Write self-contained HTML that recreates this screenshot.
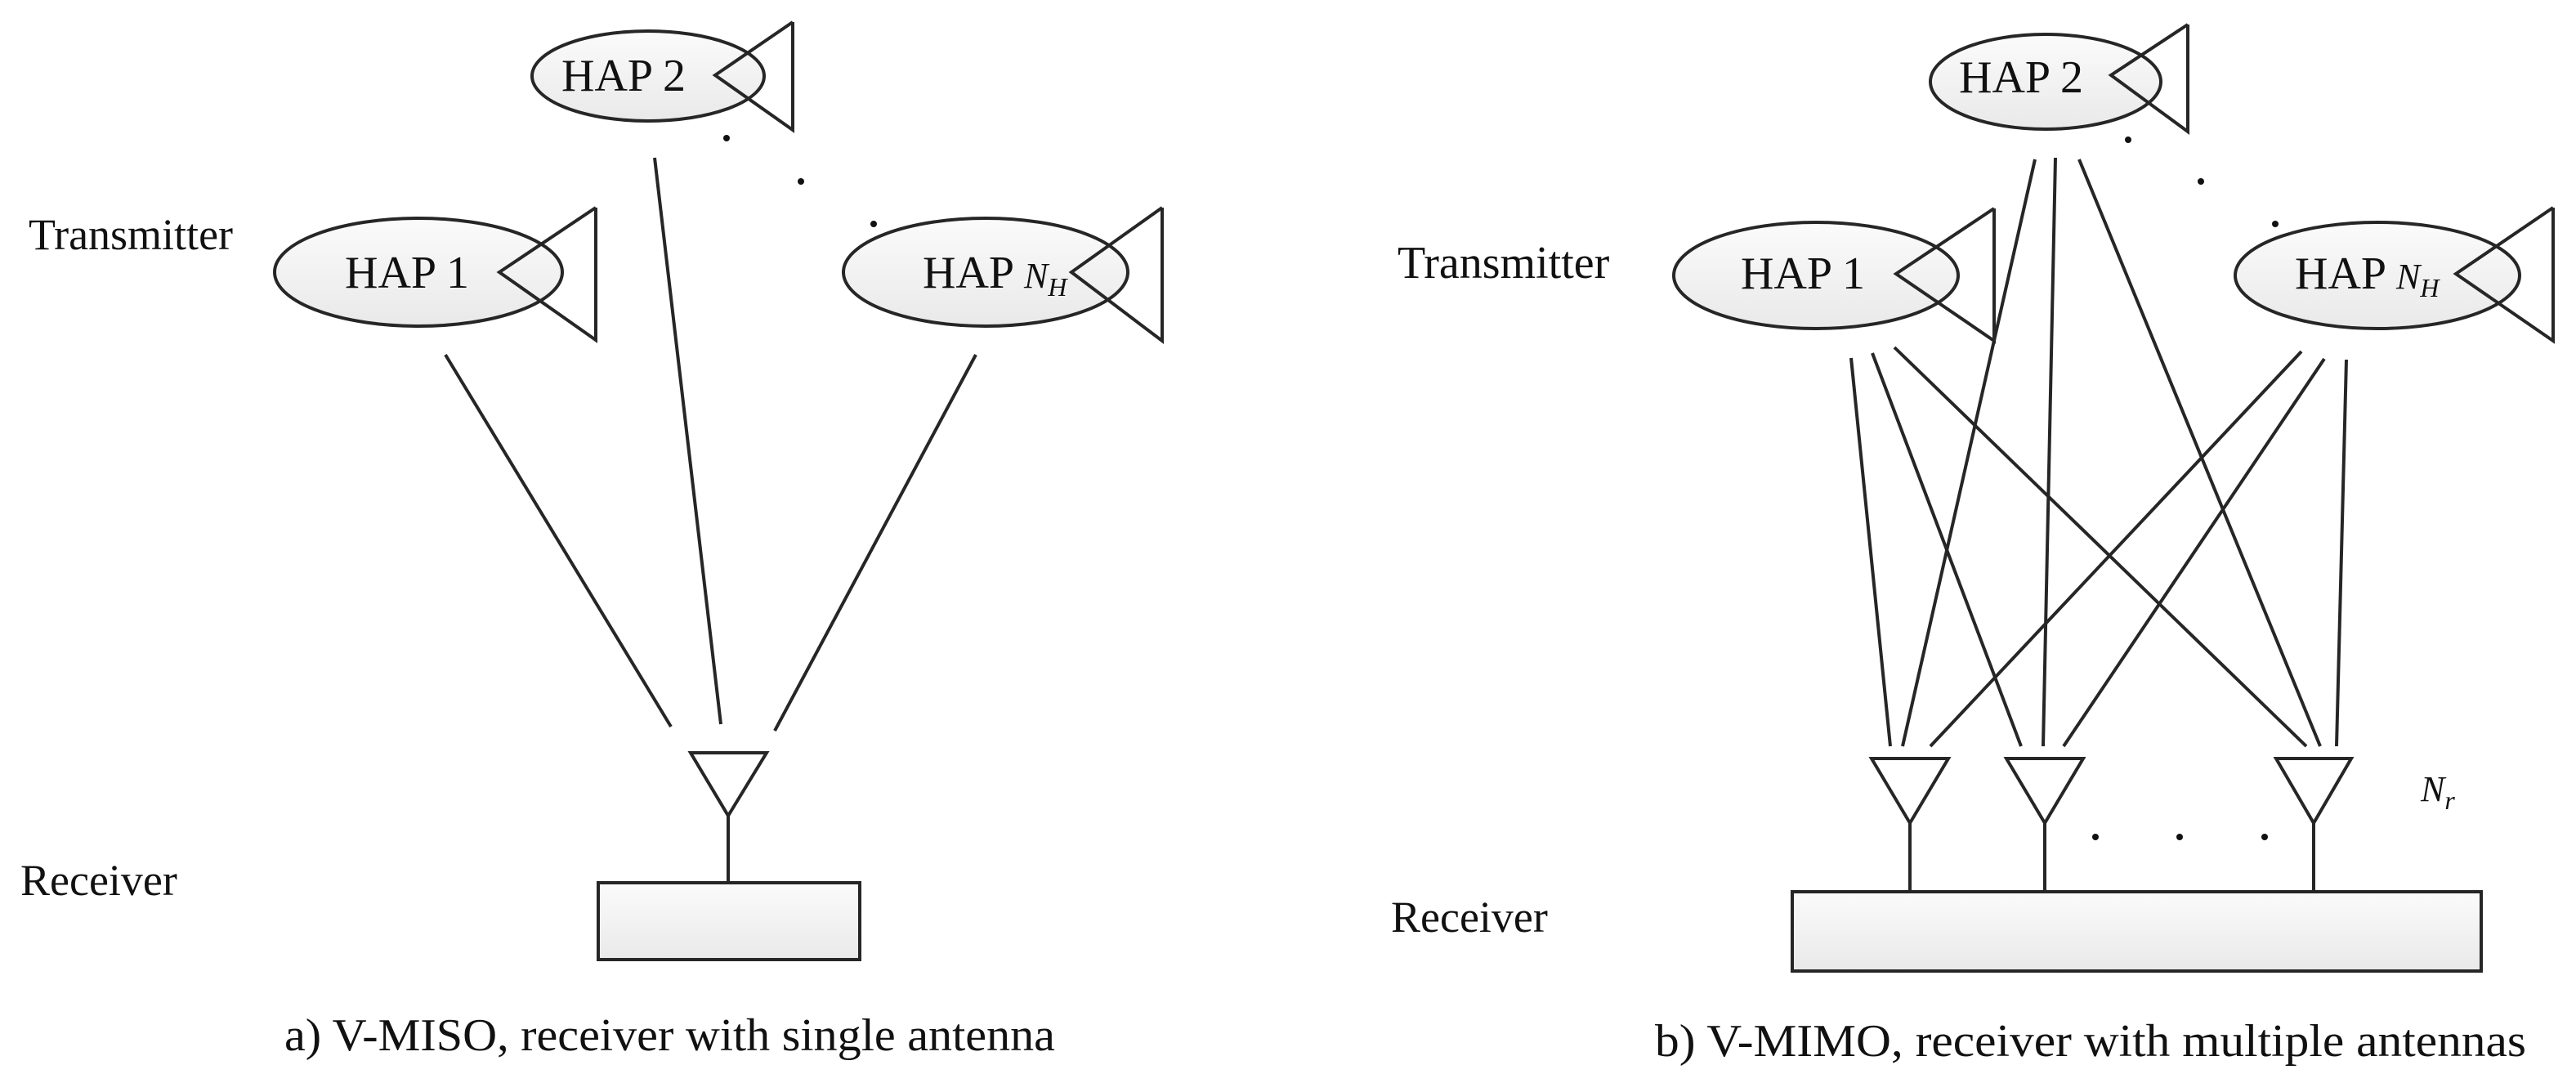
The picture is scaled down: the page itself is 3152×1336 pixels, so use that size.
<!DOCTYPE html>
<html><head><meta charset="utf-8"><style>
html,body{margin:0;padding:0;background:#fff;}
svg{display:block;}
text{font-family:"Liberation Serif",serif;fill:#111;}
</style></head><body>
<svg width="3152" height="1336" viewBox="0 0 3152 1336" xmlns="http://www.w3.org/2000/svg">
<defs>
<linearGradient id="g" x1="0" y1="0" x2="0" y2="1"><stop offset="0" stop-color="#fbfbfb"/><stop offset="1" stop-color="#e9e9e9"/></linearGradient>
</defs>
<g stroke="#262626" stroke-width="4" fill="none" stroke-linejoin="miter">
<ellipse cx="793" cy="93" rx="142" ry="55" fill="url(#g)"/>
<polyline points="970,27 875,92 970,159 970,27"/>
<ellipse cx="512" cy="333" rx="176" ry="66" fill="url(#g)"/>
<polyline points="729,254 611,333 729,416 729,254"/>
<ellipse cx="1206" cy="333" rx="174" ry="66" fill="url(#g)"/>
<polyline points="1422,254 1311,333 1422,417 1422,254"/>
<line x1="545" y1="434" x2="821" y2="889"/>
<line x1="801" y1="193" x2="882" y2="886"/>
<line x1="1194" y1="434" x2="948" y2="894"/>
<polygon points="845,921 938,921 891,998"/>
<line x1="891" y1="998" x2="891" y2="1080"/>
<rect x="732" y="1080" width="320" height="94" fill="url(#g)"/>
<ellipse cx="2503" cy="100" rx="141" ry="58" fill="url(#g)"/>
<polyline points="2677,30 2583,92 2677,161 2677,30"/>
<ellipse cx="2222" cy="337" rx="174" ry="65" fill="url(#g)"/>
<polyline points="2440,255 2320,335 2440,417 2440,255"/>
<ellipse cx="2909" cy="337" rx="174" ry="65" fill="url(#g)"/>
<polyline points="3124,254 3005,335 3124,417 3124,254"/>
<line x1="2265" y1="438" x2="2313" y2="913"/>
<line x1="2291" y1="432" x2="2473" y2="913"/>
<line x1="2318" y1="425" x2="2822" y2="913"/>
<line x1="2490" y1="195" x2="2328" y2="913"/>
<line x1="2515" y1="193" x2="2500" y2="913"/>
<line x1="2544" y1="195" x2="2839" y2="913"/>
<line x1="2816" y1="430" x2="2362" y2="913"/>
<line x1="2844" y1="439" x2="2525" y2="913"/>
<line x1="2871" y1="440" x2="2859" y2="913"/>
<polygon points="2290,928 2384,928 2337,1007"/>
<polygon points="2455,928 2549,928 2502,1007"/>
<polygon points="2785,928 2877,928 2831,1007"/>
<line x1="2337" y1="1007" x2="2337" y2="1091"/>
<line x1="2502" y1="1007" x2="2502" y2="1091"/>
<line x1="2831" y1="1007" x2="2831" y2="1091"/>
<rect x="2193" y="1091" width="843" height="97" fill="url(#g)"/>
</g>
<g fill="#111">
<circle cx="889" cy="169" r="4"/><circle cx="980" cy="222" r="4"/><circle cx="1069" cy="274" r="4"/>
<circle cx="2604" cy="171" r="4"/><circle cx="2693" cy="222" r="4"/><circle cx="2784" cy="274" r="4"/>
<circle cx="2564" cy="1024" r="4"/><circle cx="2667" cy="1024" r="4"/><circle cx="2771" cy="1024" r="4"/>
</g>
<g font-size="54">
<text x="35" y="305">Transmitter</text>
<text x="25" y="1095">Receiver</text>
<text x="1710" y="340" font-size="56">Transmitter</text>
<text x="1702" y="1140">Receiver</text>
</g>
<g font-size="56">
<text x="687" y="111">HAP 2</text>
<text x="422" y="352">HAP 1</text>
<text x="1129" y="352">HAP <tspan font-style="italic" font-size="44">N</tspan><tspan font-style="italic" font-size="32" dy="10">H</tspan></text>
<text x="2397" y="113">HAP 2</text>
<text x="2130" y="353">HAP 1</text>
<text x="2808" y="353">HAP <tspan font-style="italic" font-size="44">N</tspan><tspan font-style="italic" font-size="32" dy="10">H</tspan></text>
<text x="2962" y="980" font-style="italic" font-size="44">N<tspan font-size="32" dy="10">r</tspan></text>
<text x="348" y="1285" textLength="943" lengthAdjust="spacingAndGlyphs">a) V-MISO, receiver with single antenna</text>
<text x="2025" y="1292" textLength="1066" lengthAdjust="spacingAndGlyphs">b) V-MIMO, receiver with multiple antennas</text>
</g>
</svg>
</body></html>
